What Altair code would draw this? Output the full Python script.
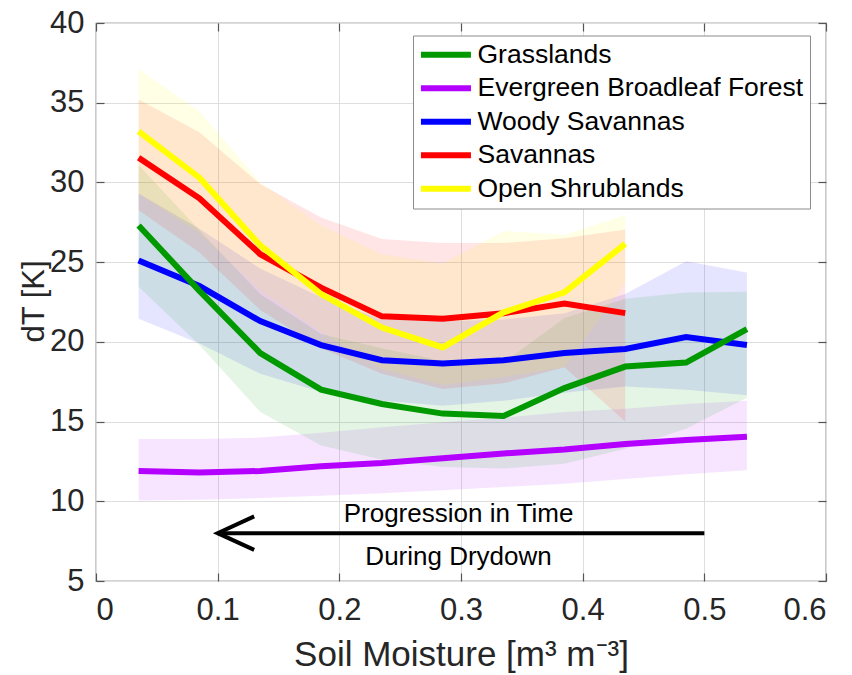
import altair as alt
import pandas as pd

# Soil-moisture bin centres [m3 m-3]
soil_moisture = [0.035, 0.085, 0.135, 0.185, 0.235, 0.285, 0.335, 0.385, 0.435, 0.485, 0.535]

# dT [K] per land-cover class: mean curve and lower/upper spread
grass_mean = [27.3, 23.2, 19.3, 17.0, 16.1, 15.5, 15.35, 17.1, 18.45, 18.7, 20.8]
grass_low = [23.45, 19.8, 15.6, 13.5, 12.6, 12.15, 12.05, 12.35, 13.3, 14.55, 16.5]
grass_high = [31.1, 27.0, 23.0, 20.5, 19.6, 18.8, 18.7, 21.5, 22.7, 23.1, 23.15]

ebf_mean = [11.9, 11.8, 11.9, 12.2, 12.4, 12.7, 13.0, 13.25, 13.6, 13.85, 14.05]
ebf_low = [10.05, 10.1, 10.2, 10.35, 10.5, 10.7, 10.9, 11.1, 11.4, 11.7, 11.95]
ebf_high = [13.9, 13.9, 14.0, 14.3, 14.65, 14.95, 15.25, 15.6, 15.8, 16.1, 16.3]

woody_mean = [25.1, 23.5, 21.3, 19.8, 18.85, 18.65, 18.85, 19.3, 19.55, 20.3, 19.8]
woody_low = [21.45, 19.9, 18.0, 16.85, 16.3, 16.0, 16.3, 16.8, 17.2, 17.0, 16.65]
woody_high = [29.3, 27.1, 24.6, 22.8, 21.4, 21.3, 21.4, 21.8, 23.0, 25.05, 24.35]

sav_mean = [31.55, 29.0, 25.5, 23.4, 21.6, 21.45, 21.8, 22.4, 21.8]
sav_low = [28.25, 25.6, 22.0, 19.6, 18.0, 17.05, 17.4, 18.4, 15.0]
sav_high = [35.2, 33.15, 29.9, 27.8, 26.45, 26.2, 26.2, 26.5, 27.05]

shrub_mean = [33.2, 30.3, 26.05, 23.0, 20.9, 19.65, 21.85, 23.1, 26.15]
shrub_low = [29.3, 26.8, 23.2, 20.6, 18.3, 17.3, 17.8, 18.4, 23.7]
shrub_high = [37.1, 34.45, 30.0, 27.3, 25.5, 24.9, 26.95, 26.7, 27.95]

classes = ["Grasslands", "Evergreen Broadleaf Forest", "Woody Savannas",
           "Savannas", "Open Shrublands"]
class_colors = ["#009900", "#B300FF", "#0000FF", "#FF0000", "#FFFF00"]

# Drydown arrow (shaft + head) and its caption
arrow_part = ["shaft", "shaft", "head", "head", "head"]
arrow_x = [0.5, 0.1, 0.13, 0.1, 0.13]
arrow_y = [8.0, 8.0, 9.05, 8.0, 6.95]
caption_text = ["Progression in Time", "During Drydown"]
caption_x = [0.298, 0.298]
caption_y = [9.2, 6.5]

series = {
    "Grasslands": (grass_mean, grass_low, grass_high),
    "Evergreen Broadleaf Forest": (ebf_mean, ebf_low, ebf_high),
    "Woody Savannas": (woody_mean, woody_low, woody_high),
    "Savannas": (sav_mean, sav_low, sav_high),
    "Open Shrublands": (shrub_mean, shrub_low, shrub_high),
}
hue = dict(zip(classes, class_colors))

# rows are listed in drawing order, so later classes sit on top
draw_order = ["Evergreen Broadleaf Forest", "Woody Savannas", "Grasslands",
              "Savannas", "Open Shrublands"]
rows = []
for name in draw_order:
    m, lo, hi = series[name]
    for i in range(len(m)):
        rows.append({"sm": soil_moisture[i], "cls": name, "hue": hue[name],
                     "dT": m[i], "lo": lo[i], "hi": hi[i]})
df = pd.DataFrame(rows)

arrow_df = pd.DataFrame({"x": arrow_x, "y": arrow_y, "part": arrow_part,
                         "ord": list(range(len(arrow_x)))})
caption_df = pd.DataFrame({"x": caption_x, "y": caption_y, "label": caption_text})

FONT = "Liberation Sans"

xscale = alt.Scale(domain=[0, 0.6], nice=False, zero=False)
yscale = alt.Scale(domain=[5, 40], nice=False, zero=False)
cscale = alt.Scale(domain=classes, range=class_colors)

x_ticks = [0, 0.1, 0.2, 0.3, 0.4, 0.5, 0.6]
y_ticks = [5, 10, 15, 20, 25, 30, 35, 40]

x_axis = alt.Axis(orient="bottom", values=x_ticks, format="~g",
                  title="Soil Moisture [m³ m⁻³]", grid=True, domain=False,
                  offset=-8, tickSize=8, labelPadding=14,
                  labelFont=FONT, labelFontSize=31, labelColor="#262626",
                  titleFont=FONT, titleFontSize=35, titleFontWeight="normal",
                  titleColor="#262626", titleX=365, titleY=92,
                  titleBaseline="alphabetic")
y_axis = alt.Axis(orient="left", values=y_ticks, title="dT [K]", grid=True,
                  domain=False, offset=-8, tickSize=8, labelPadding=12,
                  labelFont=FONT, labelFontSize=31, labelColor="#262626",
                  titleFont=FONT, titleFontSize=31, titleFontWeight="normal",
                  titleColor="#262626", titleX=-70, titleY=278,
                  titleAlign="center", titleBaseline="middle")

x_top = alt.Axis(orient="top", values=x_ticks, labels=False, title=None,
                 grid=False, domain=False, offset=-8, tickSize=8)
y_right = alt.Axis(orient="right", values=y_ticks, labels=False, title=None,
                   grid=False, domain=False, offset=-8, tickSize=8)

legend = alt.Legend(title=None, orient="none", legendX=317, legendY=12.5,
                    symbolType="M-1.13,0H3.87", symbolSize=400, symbolStrokeWidth=6,
                    labelFont=FONT, labelFontSize=26.5, labelColor="black",
                    labelLimit=0, labelOffset=32, rowPadding=6.5, padding=6,
                    strokeColor="#8c8c8c", fillColor="white")

# shaded spread of each class, coloured straight from the hue column
bands = alt.Chart(df).mark_area(opacity=0.1).encode(
    x=alt.X("sm:Q", scale=xscale, axis=x_axis),
    y=alt.Y("lo:Q", scale=yscale, axis=y_axis, stack=None),
    y2="hi:Q",
    fill=alt.Fill("hue:N", scale=None),
    detail="cls:N",
)

lines = alt.Chart(df).mark_line(strokeWidth=6).encode(
    x=alt.X("sm:Q", scale=xscale, axis=None),
    y=alt.Y("dT:Q", scale=yscale, axis=None),
    color=alt.Color("cls:N", scale=cscale, legend=legend),
)

frame = alt.Chart(df).mark_point(opacity=0).encode(
    x=alt.X("sm:Q", scale=xscale, axis=x_top),
    y=alt.Y("dT:Q", scale=yscale, axis=y_right),
)

arrow = alt.Chart(arrow_df).mark_line(color="black", strokeWidth=4).encode(
    x=alt.X("x:Q", scale=xscale, axis=None),
    y=alt.Y("y:Q", scale=yscale, axis=None),
    detail="part:N",
    order="ord:Q",
)

captions = alt.Chart(caption_df).mark_text(font=FONT, fontSize=26, color="black",
                                          baseline="middle").encode(
    x=alt.X("x:Q", scale=xscale, axis=None),
    y=alt.Y("y:Q", scale=yscale, axis=None),
    text="label:N",
)

chart = alt.layer(bands, lines, frame, arrow, captions).properties(
    width=730, height=558,
    autosize=alt.AutoSizeParams(type="none"),
    padding={"left": 96, "top": 23, "right": 26, "bottom": 94},
).configure_view(
    stroke="#555555", strokeWidth=1.2,
).configure_axis(
    gridColor="#dedede", gridWidth=1, tickColor="#555555", tickWidth=1.2,
)

chart.save("out.html", embed_options={"renderer": "svg", "actions": False})
